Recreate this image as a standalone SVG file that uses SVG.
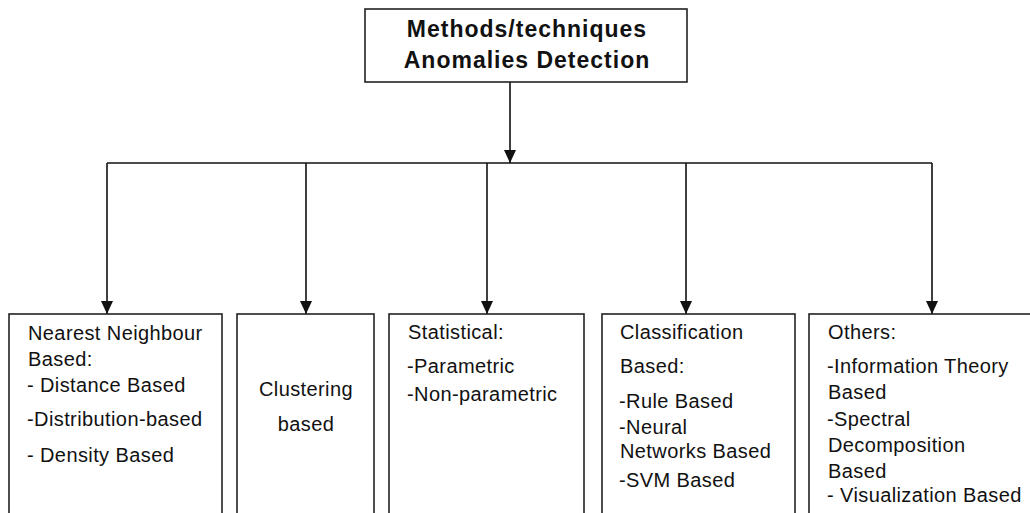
<svg xmlns="http://www.w3.org/2000/svg" width="1030" height="513" viewBox="0 0 1030 513">
<style>
.box{fill:#fff;stroke:#222;stroke-width:1.6}
.t{font-family:"Liberation Sans",Arial,sans-serif;font-size:20px;letter-spacing:0.4px;fill:#111}
.b{font-family:"Liberation Sans",Arial,sans-serif;font-size:23px;letter-spacing:1px;font-weight:bold;fill:#111;text-anchor:middle}
.c{fill:none;stroke:#111;stroke-width:1.6}
</style>
<defs>
<marker id="ah" markerWidth="14" markerHeight="12" refX="13" refY="6" orient="auto" markerUnits="userSpaceOnUse">
<path d="M0,0 L13,6 L0,12 Z" fill="#111"/>
</marker>
</defs>
<rect width="1030" height="513" fill="#fff"/>
<g id="connectors">
<line class="c" x1="510" y1="82" x2="510" y2="163" marker-end="url(#ah)"/>
<line class="c" x1="107" y1="163" x2="932" y2="163"/>
<line class="c" x1="107" y1="163" x2="107" y2="314" marker-end="url(#ah)"/>
<line class="c" x1="306" y1="163" x2="306" y2="314" marker-end="url(#ah)"/>
<line class="c" x1="487" y1="163" x2="487" y2="314" marker-end="url(#ah)"/>
<line class="c" x1="686" y1="163" x2="686" y2="314" marker-end="url(#ah)"/>
<line class="c" x1="932" y1="163" x2="932" y2="314" marker-end="url(#ah)"/>
</g>
<g id="root">
<rect class="box" x="365" y="9" width="322" height="73"/>
<text class="b" x="527" y="37">Methods/techniques</text>
<text class="b" x="527" y="68">Anomalies Detection</text>
</g>
<g id="nearest">
<rect class="box" x="9" y="314" width="213" height="230"/>
<text class="t" x="28" y="340">Nearest Neighbour</text>
<text class="t" x="28" y="366">Based:</text>
<text class="t" x="27" y="392">- Distance Based</text>
<text class="t" x="27" y="426">-Distribution-based</text>
<text class="t" x="27" y="462">- Density Based</text>
</g>
<g id="clustering">
<rect class="box" x="237" y="314" width="137" height="230"/>
<text class="t" x="306" y="396" text-anchor="middle">Clustering</text>
<text class="t" x="306" y="431" text-anchor="middle">based</text>
</g>
<g id="statistical">
<rect class="box" x="389" y="314" width="195" height="230"/>
<text class="t" x="408" y="339">Statistical:</text>
<text class="t" x="407" y="373">-Parametric</text>
<text class="t" x="407" y="401">-Non-parametric</text>
</g>
<g id="classification">
<rect class="box" x="602" y="314" width="193" height="230"/>
<text class="t" x="620" y="339">Classification</text>
<text class="t" x="620" y="373">Based:</text>
<text class="t" x="619" y="408">-Rule Based</text>
<text class="t" x="619" y="434">-Neural</text>
<text class="t" x="620" y="458">Networks Based</text>
<text class="t" x="619" y="487">-SVM Based</text>
</g>
<g id="others">
<rect class="box" x="809" y="314" width="240" height="230"/>
<text class="t" x="828" y="339">Others:</text>
<text class="t" x="827" y="373">-Information Theory</text>
<text class="t" x="828" y="399">Based</text>
<text class="t" x="827" y="426">-Spectral</text>
<text class="t" x="828" y="452">Decomposition</text>
<text class="t" x="828" y="478">Based</text>
<text class="t" x="827" y="502">- Visualization Based</text>
</g>
</svg>
